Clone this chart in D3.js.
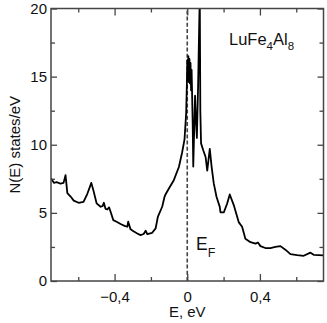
<!DOCTYPE html>
<html>
<head>
<meta charset="utf-8">
<script src="https://cdnjs.cloudflare.com/ajax/libs/d3/7.8.5/d3.min.js"></script>
<style>
  body { margin: 0; background: #fff; }
  svg text { font-family: "Liberation Sans", Arial, sans-serif; fill: #111; }
</style>
</head>
<body>
<div id="chart"></div>
<script>
// energy (eV) and density of states
const energy = [
  -0.750, -0.734, -0.719, -0.698, -0.681, -0.670, -0.660, -0.642, -0.625, -0.598,
  -0.571, -0.550, -0.528, -0.517, -0.499, -0.477, -0.466, -0.459, -0.450, -0.440,
  -0.430, -0.422, -0.407, -0.389, -0.367, -0.345, -0.330, -0.325, -0.312, -0.296,
  -0.275, -0.257, -0.240, -0.229, -0.220, -0.193, -0.174, -0.162, -0.138, -0.125,
  -0.119, -0.101, -0.074, -0.046, -0.028, -0.015, -0.006, -0.002,
  0.000, 0.003, 0.006, 0.009, 0.012, 0.015, 0.018, 0.021, 0.024, 0.027,
  0.030, 0.033, 0.038, 0.043, 0.048, 0.053, 0.060, 0.066, 0.069, 0.072,
  0.076, 0.088, 0.101, 0.110, 0.124, 0.134, 0.146, 0.161, 0.179, 0.183,
  0.201, 0.220, 0.234, 0.256, 0.284, 0.302, 0.320, 0.348, 0.376, 0.389,
  0.403, 0.430, 0.458, 0.485, 0.513, 0.540, 0.568, 0.605, 0.641, 0.678,
  0.696, 0.750
];
const dos = [
  7.55, 7.20, 7.25, 7.15, 7.20, 7.77, 6.45, 6.20, 5.90, 5.74,
  5.80, 6.40, 7.20, 6.67, 5.70, 5.45, 5.50, 5.74, 5.30, 5.25,
  5.40, 5.08, 4.47, 4.35, 4.18, 4.05, 3.98, 4.35, 3.79, 3.65,
  3.49, 3.37, 3.45, 3.69, 3.44, 3.54, 3.86, 4.70, 5.45, 6.18,
  6.37, 6.79, 7.40, 8.37, 9.45, 10.4, 12.3, 14.5,
  16.2, 14.8, 16.5, 14.6, 16.3, 14.5, 16.0, 14.0, 15.5, 13.5,
  11.5, 8.4, 11.0, 13.6, 11.8, 10.5, 14.5, 19.0, 20.8, 12.5,
  10.1, 9.6, 9.1, 8.1, 9.7, 8.4, 7.16, 6.18, 5.44, 5.03,
  5.03, 5.70, 6.35, 5.57, 4.30, 3.98, 3.10, 2.85, 2.74, 2.83,
  2.56, 2.42, 2.42, 2.50, 2.56, 2.30, 1.97, 1.90, 1.85, 2.08,
  1.92, 1.88
];
const xMajor = [-0.4, 0, 0.4];
const xMinor = [-0.6, -0.2, 0.2, 0.6];
const yMajor = [0, 5, 10, 15, 20];
const yMinor = [2.5, 7.5, 12.5, 17.5];

const W = 327, H = 323;
const m = { left: 51, right: 3.5, top: 8.5, bottom: 42 };

const svg = d3.select('#chart').append('svg')
  .attr('width', W).attr('height', H);

const x = d3.scaleLinear().domain([-0.75, 0.75]).range([m.left, W - m.right]);
const y = d3.scaleLinear().domain([0, 20]).range([H - m.bottom, m.top]);

svg.append('clipPath').attr('id', 'clip')
  .append('rect')
  .attr('x', m.left).attr('y', m.top)
  .attr('width', W - m.left - m.right).attr('height', H - m.top - m.bottom);

// Fermi level
svg.append('line')
  .attr('x1', x(0)).attr('x2', x(0))
  .attr('y1', y(0)).attr('y2', y(20))
  .attr('stroke', '#444').attr('stroke-width', 1.6)
  .attr('stroke-dasharray', '4,2.2');

// curve
const line = d3.line().x((d, i) => x(energy[i])).y(d => y(d));
svg.append('path')
  .datum(dos)
  .attr('clip-path', 'url(#clip)')
  .attr('fill', 'none')
  .attr('stroke', '#000')
  .attr('stroke-width', 1.8)
  .attr('stroke-linejoin', 'round')
  .attr('d', line);

// axes, ticks pointing inward on all four sides
const axisColor = '#444';
function styleAxis(g) {
  g.select('.domain').remove();
  g.selectAll('line').attr('stroke', axisColor).attr('stroke-width', 1.3);
}
const bottomY = y(0), topY = y(20);
svg.append('g').attr('transform', `translate(0,${bottomY})`)
  .call(d3.axisBottom(x).tickValues(xMajor).tickSize(-7).tickPadding(10)
    .tickFormat(d => d === 0 ? '0' : d3.format('.1f')(d).replace('.', ',').replace('-', '-')))
  .call(styleAxis)
  .call(g => g.selectAll('text').attr('font-size', 15).attr('fill', '#111')
    .attr('font-family', '"Liberation Sans", Arial, sans-serif'));
svg.append('g').attr('transform', `translate(0,${bottomY})`)
  .call(d3.axisBottom(x).tickValues(xMinor).tickSize(-4).tickFormat(''))
  .call(styleAxis);
svg.append('g').attr('transform', `translate(0,${topY})`)
  .call(d3.axisTop(x).tickValues(xMajor).tickSize(-7).tickFormat(''))
  .call(styleAxis);
svg.append('g').attr('transform', `translate(0,${topY})`)
  .call(d3.axisTop(x).tickValues(xMinor).tickSize(-4).tickFormat(''))
  .call(styleAxis);

svg.append('g').attr('transform', `translate(${m.left},0)`)
  .call(d3.axisLeft(y).tickValues(yMajor).tickSize(-6).tickPadding(4))
  .call(styleAxis)
  .call(g => g.selectAll('text').attr('font-size', 15).attr('fill', '#111')
    .attr('font-family', '"Liberation Sans", Arial, sans-serif'));
svg.append('g').attr('transform', `translate(${m.left},0)`)
  .call(d3.axisLeft(y).tickValues(yMinor).tickSize(-4).tickFormat(''))
  .call(styleAxis);
svg.append('g').attr('transform', `translate(${W - m.right},0)`)
  .call(d3.axisRight(y).tickValues(yMajor).tickSize(-6).tickFormat(''))
  .call(styleAxis);
svg.append('g').attr('transform', `translate(${W - m.right},0)`)
  .call(d3.axisRight(y).tickValues(yMinor).tickSize(-4).tickFormat(''))
  .call(styleAxis);

// frame
svg.append('rect')
  .attr('x', m.left).attr('y', m.top)
  .attr('width', W - m.left - m.right).attr('height', H - m.top - m.bottom)
  .attr('fill', 'none').attr('stroke', axisColor).attr('stroke-width', 1.5);

// axis titles
svg.append('text')
  .attr('x', x(0)).attr('y', 317)
  .attr('text-anchor', 'middle').attr('font-size', 15)
  .text('E, eV');
svg.append('text')
  .attr('transform', `translate(20,${y(10)}) rotate(-90)`)
  .attr('text-anchor', 'middle').attr('font-size', 15)
  .text('N(E) states/eV');

// compound label
const comp = svg.append('text').attr('x', 229).attr('y', 45).attr('font-size', 16.5);
comp.append('tspan').text('LuFe');
comp.append('tspan').attr('font-size', 11.5).attr('dy', 5).text('4');
comp.append('tspan').attr('dy', -5).text('Al');
comp.append('tspan').attr('font-size', 11.5).attr('dy', 5).text('8');

// Fermi label
const ef = svg.append('text').attr('x', 196).attr('y', 250).attr('font-size', 17.5);
ef.append('tspan').text('E');
ef.append('tspan').attr('font-size', 12.5).attr('dy', 7).text('F');
</script>
</body>
</html>
